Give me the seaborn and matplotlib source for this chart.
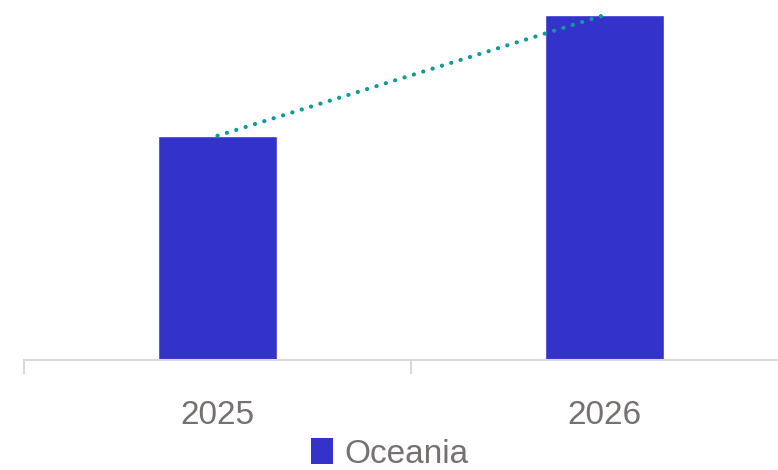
# ===== Oceania bar chart with trend line =====
import numpy as np
import pandas as pd
import matplotlib
matplotlib.use('Agg')
import matplotlib.pyplot as plt
from matplotlib.patches import Patch
import seaborn as sns

sns.set_style('white')
plt.rcParams['font.family'] = ['Liberation Sans Narrow', 'Liberation Sans', 'DejaVu Sans']

# ===== Data =====
years = ['2025', '2026']
values = [6.5, 10.0]
series_name = 'Oceania'

df = pd.DataFrame({'year': years, 'value': values})

bar_color = '#3333CC'
trend_color = '#119A9A'
text_color = '#767171'
axis_color = '#D9D9D9'

# ===== Figure =====
fig = plt.figure(figsize=(7.78, 4.70), dpi=100)
# axes spans 24px -> 798px horizontally (right edge runs past the figure)
ax = fig.add_axes([24 / 778, 110 / 470, 774 / 778, 345 / 470])

sns.barplot(data=df, x='year', y='value', color=bar_color, width=0.31,
            saturation=1, ax=ax)

# dotted trend line between the bar tops
ax.plot(np.arange(len(values)), values, linestyle=(0, (0.05, 2.3)),
        color=trend_color, linewidth=3, dash_capstyle='round', clip_on=False)

ax.set_xlim(-0.5, 1.5)
ax.set_ylim(0, 10)
ax.set_xlabel('')
ax.set_ylabel('')
ax.set_yticks([])

for side in ['top', 'right', 'left']:
    ax.spines[side].set_visible(False)
ax.spines['bottom'].set_color(axis_color)
ax.spines['bottom'].set_linewidth(1.5)

# category boundary ticks
ax.set_xticks([-0.5, 0.5, 1.5], minor=True)
ax.tick_params(axis='x', which='minor', bottom=True, length=10, width=1.5,
               color=axis_color, direction='out')
ax.tick_params(axis='x', which='major', bottom=True, length=0, pad=29,
               labelsize=24, labelcolor=text_color)

# ===== Legend =====
handles = [Patch(facecolor=bar_color, edgecolor='none', label=series_name)]
fig.legend(handles=handles, loc='center', bbox_to_anchor=(390 / 778, 16 / 470),
           frameon=False, fontsize=24, labelcolor=text_color,
           handlelength=0.65, handleheight=0.8, handletextpad=0.35,
           borderpad=0.1)

fig.savefig('out.png', dpi=100)
